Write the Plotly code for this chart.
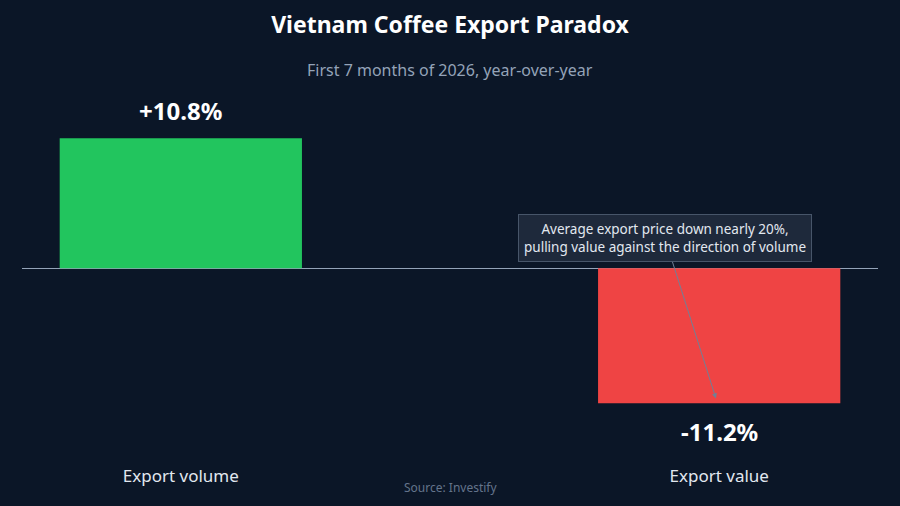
import plotly.graph_objects as go

categories = ["Export volume", "Export value"]
values = [10.8, -11.2]
labels = ["+10.8%", "-11.2%"]
colors = ["#22c55e", "#ef4444"]

BG = "#0b1627"
FONT = "Noto Sans"

fig = go.Figure()
fig.add_trace(go.Bar(
    x=[0, 1], y=values, width=0.45,
    marker=dict(color=colors, line=dict(width=0)),
    hoverinfo="skip", showlegend=False,
))

for i, (v, t) in enumerate(zip(values, labels)):
    fig.add_annotation(
        x=i, y=v, text=f"<b>{t}</b>", showarrow=False,
        yshift=28 if v > 0 else -28,
        font=dict(family=FONT, size=24, color="#ffffff"),
    )

fig.add_annotation(
    x=0.994, y=-10.8, xref="x", yref="y",
    text="Average export price down nearly 20%,<br>pulling value against the direction of volume",
    showarrow=True, arrowhead=2, arrowsize=1, arrowwidth=1, arrowcolor="#718096",
    ax=-51, ay=-160,
    font=dict(family=FONT, size=13.5, color="#e2e8f0"),
    bgcolor="#1e293b", bordercolor="#475569", borderwidth=1, borderpad=5,
    align="center",
)

fig.add_annotation(
    x=0.5, y=-(487 - 455) / 365.0, xref="paper", yref="paper", yanchor="middle",
    text="Source: Investify",
    showarrow=False, font=dict(family=FONT, size=12, color="#64748b"),
)

fig.add_annotation(
    x=0.5, y=1.0 + (90 - 70) / 365.0, xref="paper", yref="paper", yanchor="middle",
    showarrow=False,
    text="First 7 months of 2026, year-over-year",
    font=dict(family=FONT, size=16, color="#94a3b8"),
)

fig.update_layout(
    width=900, height=506,
    paper_bgcolor=BG, plot_bgcolor=BG,
    margin=dict(l=22, r=22, t=90, b=51),
    title=dict(
        text="<b>Vietnam Coffee Export Paradox</b>",
        x=0.5, xanchor="center", y=1 - 25 / 506, yanchor="middle",
        font=dict(family=FONT, size=23, color="#ffffff"),
    ),
    xaxis=dict(
        range=[-0.295, 1.295], tickmode="array", tickvals=[0, 1], ticktext=categories,
        showgrid=False, zeroline=False, showline=False, ticks="",
        ticklabelstandoff=9,
        tickfont=dict(family=FONT, size=17, color="#e2e8f0"),
    ),
    yaxis=dict(
        range=[-15.5, 14.8], showgrid=False, showticklabels=False,
        zeroline=True, zerolinecolor="#94a3b8", zerolinewidth=1,
    ),
)

fig.write_html(
    "out.html",
    config={"displayModeBar": False},
    post_script="document.body.style.margin='0';document.body.style.background='%s';" % BG,
)
